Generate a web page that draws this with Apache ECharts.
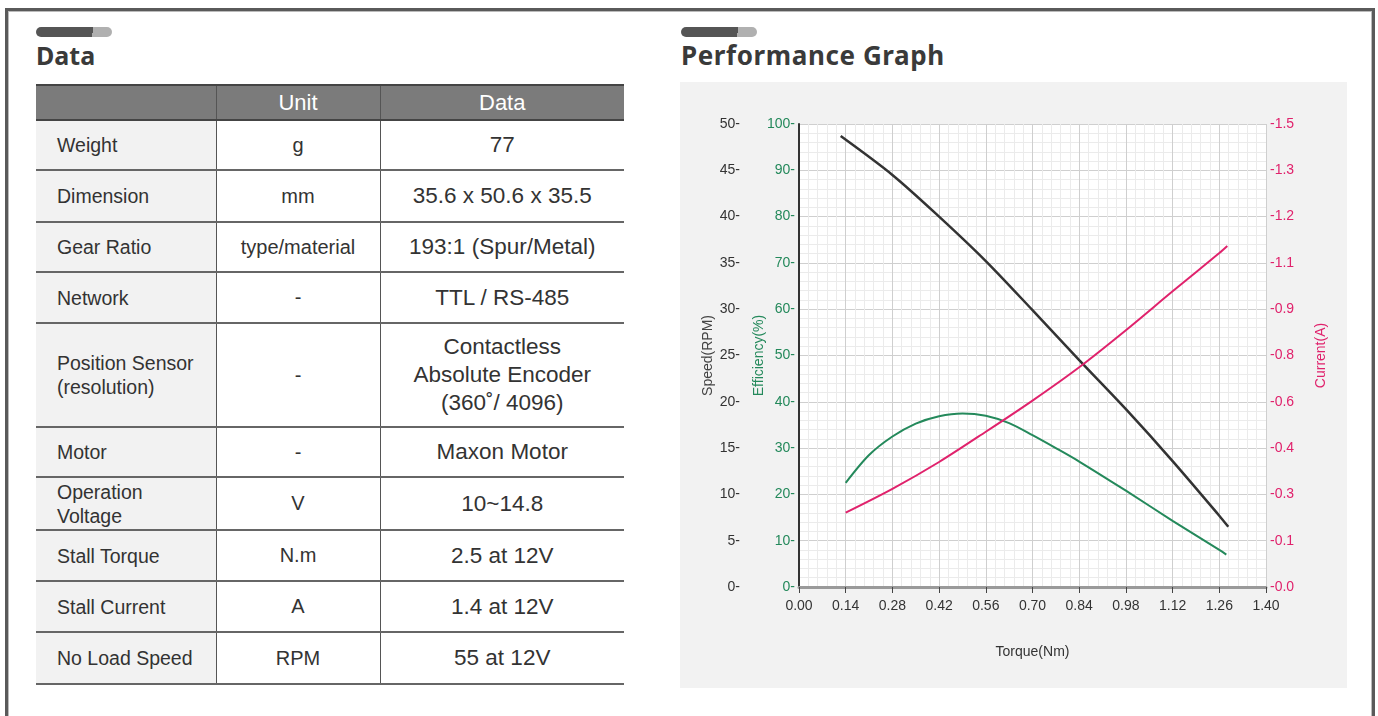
<!DOCTYPE html>
<html>
<head>
<meta charset="utf-8">
<script src="https://cdn.jsdelivr.net/npm/echarts@6/dist/echarts.min.js"></script>
<style>
  html, body { margin:0; padding:0; background:#fff; }
  body { width:1378px; height:716px; position:relative; overflow:hidden; font-family:"Liberation Sans", Arial, sans-serif; }
  .frame { position:absolute; left:5px; top:8px; width:1364px; height:730px; border:3px solid #5a5a5a; box-shadow: inset 0 0 0 1px #bbb; }
  .pill { position:absolute; width:76px; height:10px; border-radius:5px; background:linear-gradient(100deg,#555 0,#555 74%,#b0b0b0 74%,#b0b0b0 100%); }
  .title { position:absolute; font-family:"Noto Sans", "DejaVu Sans", sans-serif; font-weight:700; color:#3a3a3a; font-size:25px; line-height:30px; }
  table { position:absolute; left:36px; top:84px; width:588px; border-collapse:collapse; color:#333; }
  th { background:#7b7b7b; color:#fff; font-weight:400; font-size:22px; height:33px; border-top:2px solid #444; border-bottom:2px solid #444; border-left:1px solid #555; padding:0; }
  th:first-child { border-left:none; }
  td { border-bottom:2px solid #666; border-left:1px solid #555; padding:0; text-align:center; font-size:20px; }
  td:first-child { border-left:none; background:#f2f2f2; text-align:left; padding-left:21px; line-height:24px; font-size:19.5px; }
  td.d { font-size:22.5px; line-height:28px; }
  #chart { position:absolute; left:680px; top:82px; width:667px; height:606px; background:#f2f2f2; }
</style>
</head>
<body>
<div class="frame"></div>
<div class="pill" style="left:36px;top:27px;"></div>
<div class="title" style="left:36px;top:40px;">Data</div>
<div class="pill" style="left:681px;top:27px;"></div>
<div class="title" style="left:681px;top:40px;font-size:26px;letter-spacing:0.6px;">Performance Graph</div>

<table id="spec">
  <colgroup><col style="width:180px"><col style="width:164px"><col style="width:244px"></colgroup>
  <thead><tr><th></th><th>Unit</th><th>Data</th></tr></thead>
  <tbody id="specBody"></tbody>
</table>

<div id="chart"></div>

<script>
// ---- Table data ----
const specNames = ["Weight", "Dimension", "Gear Ratio", "Network", "Position Sensor<br>(resolution)", "Motor", "Operation<br>Voltage", "Stall Torque", "Stall Current", "No Load Speed"];
const specUnits = ["g", "mm", "type/material", "-", "-", "-", "V", "N.m", "A", "RPM"];
const specValues = ["77", "35.6 x 50.6 x 35.5", "193:1 (Spur/Metal)", "TTL / RS-485", "Contactless<br>Absolute Encoder<br>(360˚/ 4096)", "Maxon Motor", "10~14.8", "2.5 at 12V", "1.4 at 12V", "55 at 12V"];
const specRowHeights = [50, 52, 50, 51, 104, 50, 53, 51, 51, 52];

// ---- Chart data ----
const xTickLabels = ["0.00", "0.14", "0.28", "0.42", "0.56", "0.70", "0.84", "0.98", "1.12", "1.26", "1.40"];
const speedTickLabels = ["0-", "5-", "10-", "15-", "20-", "25-", "30-", "35-", "40-", "45-", "50-"];
const effTickLabels = ["0-", "10-", "20-", "30-", "40-", "50-", "60-", "70-", "80-", "90-", "100-"];
const currentTickLabels = ["-0.0", "-0.1", "-0.3", "-0.4", "-0.6", "-0.8", "-0.9", "-1.1", "-1.2", "-1.3", "-1.5"];

const speedTorque = [0.125, 0.28, 0.42, 0.56, 0.70, 0.84, 0.98, 1.12, 1.26, 1.287];
const speedRPM    = [48.7, 44.5, 40.0, 35.2, 29.9, 24.5, 19.2, 13.6, 7.7, 6.5];

const effTorque = [0.14, 0.21, 0.28, 0.35, 0.42, 0.49, 0.56, 0.63, 0.70, 0.77, 0.84, 0.98, 1.12, 1.26, 1.281];
const effPct    = [22.5, 28.5, 32.5, 35.3, 36.9, 37.5, 37.0, 35.4, 32.8, 30.0, 27.1, 20.8, 14.3, 8.0, 7.0];

const curTorque = [0.14, 0.28, 0.42, 0.56, 0.70, 0.84, 0.98, 1.12, 1.26, 1.284];
const curAmp    = [0.241, 0.318, 0.405, 0.503, 0.604, 0.712, 0.832, 0.958, 1.082, 1.105];

// build table
const tb = document.getElementById('specBody');
specNames.forEach((n, i) => {
  const tr = document.createElement('tr');
  tr.style.height = specRowHeights[i] + 'px';
  tr.innerHTML = '<td>' + n + '</td><td>' + specUnits[i] + '</td><td class="d">' + specValues[i] + '</td>';
  tb.appendChild(tr);
});

const pairs = (xs, ys) => xs.map((x, i) => [x, ys[i]]);
const FONT = '"Liberation Sans", Arial, sans-serif';
const GREEN = '#24895b';
const PINK = '#e0226c';

const chart = echarts.init(document.getElementById('chart'), null, { renderer: 'canvas' });
chart.setOption({
  animation: false,
  backgroundColor: '#f2f2f2',
  textStyle: { fontFamily: FONT },
  grid: { left: 119, right: 81, top: 42, bottom: 101, show: true, backgroundColor: '#ffffff', borderWidth: 0, containLabel: false, outerBoundsMode: 'none' },
  xAxis: {
    type: 'value', min: 0, max: 1.4, interval: 0.14,
    name: 'Torque(Nm)', nameLocation: 'middle', nameGap: 58, nameMoveOverlap: false,
    nameTextStyle: { color: '#333', fontSize: 14, fontFamily: FONT },
    axisLine: { show: true, lineStyle: { color: '#9a9a9a', width: 3 } },
    axisTick: { show: true, length: 6, lineStyle: { color: '#444', width: 1 } },
    axisLabel: { color: '#333', fontSize: 14, margin: 12, fontFamily: FONT, formatter: v => xTickLabels[Math.round(v / 0.14)] },
    splitLine: { show: true, lineStyle: { color: '#cfcfcf', width: 1 } },
    minorTick: { show: false, splitNumber: 5 },
    minorSplitLine: { show: true, lineStyle: { color: '#ebebeb', width: 1 } }
  },
  yAxis: [
    {
      type: 'value', min: 0, max: 50, interval: 5, position: 'left', offset: 55,
      name: 'Speed(RPM)', nameLocation: 'middle', nameGap: 29, nameRotate: 90, nameMoveOverlap: false,
      nameTextStyle: { color: '#444', fontSize: 14, fontFamily: FONT },
      axisLine: { show: false }, axisTick: { show: false },
      axisLabel: { color: '#333', fontSize: 14, margin: 4, fontFamily: FONT, formatter: v => speedTickLabels[Math.round(v / 5)] },
      splitLine: { show: true, lineStyle: { color: '#cfcfcf', width: 1 } },
      minorTick: { show: false, splitNumber: 5 },
      minorSplitLine: { show: true, lineStyle: { color: '#ebebeb', width: 1 } }
    },
    {
      type: 'value', min: 0, max: 100, interval: 10, position: 'left', offset: 0,
      name: 'Efficiency(%)', nameLocation: 'middle', nameGap: 33, nameRotate: 90, nameMoveOverlap: false,
      nameTextStyle: { color: GREEN, fontSize: 14, fontFamily: FONT },
      axisLine: { show: true, onZero: false, lineStyle: { color: '#333', width: 2 } }, axisTick: { show: false },
      axisLabel: { color: GREEN, fontSize: 14, margin: 4, fontFamily: FONT, formatter: v => effTickLabels[Math.round(v / 10)] },
      splitLine: { show: false }
    },
    {
      type: 'value', min: 0, max: 1.5, interval: 0.15, position: 'right', offset: 0,
      name: 'Current(A)', nameLocation: 'middle', nameGap: 48, nameRotate: 90, nameMoveOverlap: false,
      nameTextStyle: { color: PINK, fontSize: 14, fontFamily: FONT },
      axisLine: { show: false }, axisTick: { show: false },
      axisLabel: { color: PINK, fontSize: 14, margin: 4, fontFamily: FONT, formatter: v => currentTickLabels[Math.round(v / 0.15)] },
      splitLine: { show: false }
    }
  ],
  series: [
    { name: 'Speed', type: 'line', yAxisIndex: 0, smooth: 0.3, showSymbol: false, data: pairs(speedTorque, speedRPM), lineStyle: { color: '#333', width: 2.5 }, itemStyle: { color: '#333' } },
    { name: 'Efficiency', type: 'line', yAxisIndex: 1, smooth: 0.3, showSymbol: false, data: pairs(effTorque, effPct), lineStyle: { color: GREEN, width: 2 }, itemStyle: { color: GREEN } },
    { name: 'Current', type: 'line', yAxisIndex: 2, smooth: 0.3, showSymbol: false, data: pairs(curTorque, curAmp), lineStyle: { color: PINK, width: 2 }, itemStyle: { color: PINK } }
  ]
});
</script>
</body>
</html>
